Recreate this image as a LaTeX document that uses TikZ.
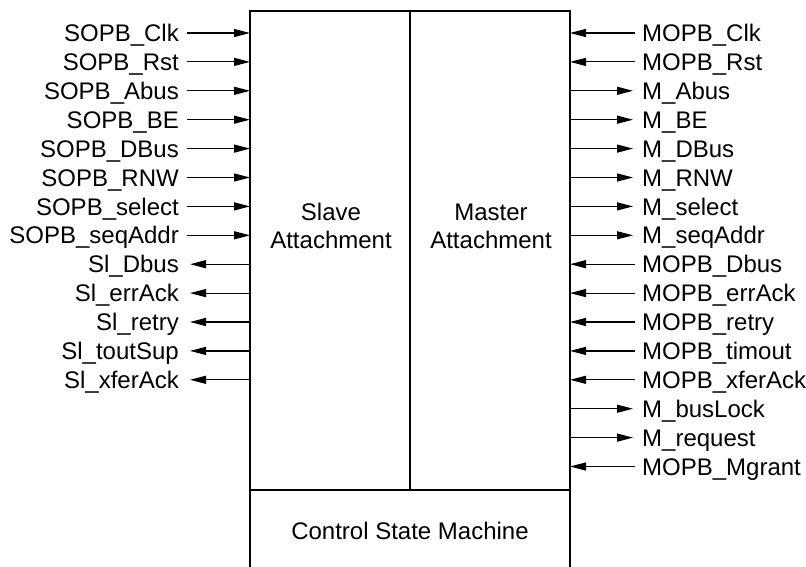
\documentclass[tikz,border=0pt]{standalone}
\usepackage{fontspec}
\setmainfont{Liberation Sans}
\usetikzlibrary{arrows.meta}
\begin{document}
\begin{tikzpicture}[x=1pt, y=-1pt,
		every node/.style={font=\fontsize{24}{28}\selectfont},
		lbl/.style={inner sep=0, text height=17.2pt, text depth=0pt},
		sig/.style={line width=1.2pt, -{Triangle[length=16pt, width=8pt]}},
		blk/.style={draw, line width=2pt, inner sep=0, outer sep=0, anchor=north west}]
			\useasboundingbox (0,0) rectangle (806,567);
			% blocks
			\node (slave) [blk, minimum width=160pt, minimum height=479pt] at (250,11) {};
			\node (master) [blk, minimum width=160pt, minimum height=479pt] at (slave.north east) {};
			\coordinate (csmL) at (250,568);
			\coordinate (csmR) at (570,568);
			\draw[line width=2pt] (slave.south west) -- (csmL);
			\draw[line width=2pt] (master.south east) -- (csmR);
			\node (slavetxt) [align=center] at (331,226) {Slave\\Attachment};
			\node (mastertxt) [align=center] at (491,226) {Master\\Attachment};
			\node (csm) at (410,531) {Control State Machine};
			% slave side
			\node (s1) [lbl, anchor=east] at (179,33.0) {SOPB\_Clk};
			\node (s2) [lbl, anchor=east] at (179,61.9) {SOPB\_Rst};
			\node (s3) [lbl, anchor=east] at (179,90.8) {SOPB\_Abus};
			\node (s4) [lbl, anchor=east] at (179,119.7) {SOPB\_BE};
			\node (s5) [lbl, anchor=east] at (179,148.6) {SOPB\_DBus};
			\node (s6) [lbl, anchor=east] at (179,177.5) {SOPB\_RNW};
			\node (s7) [lbl, anchor=east] at (179,206.4) {SOPB\_select};
			\node (s8) [lbl, anchor=east] at (179,235.3) {SOPB\_seqAddr};
			\node (s9) [lbl, anchor=east] at (179,264.2) {Sl\_Dbus};
			\node (s10) [lbl, anchor=east] at (179,293.1) {Sl\_errAck};
			\node (s11) [lbl, anchor=east] at (179,322.0) {Sl\_retry};
			\node (s12) [lbl, anchor=east] at (179,350.9) {Sl\_toutSup};
			\node (s13) [lbl, anchor=east] at (179,379.8) {Sl\_xferAck};
			\draw[sig] ([xshift=8pt]s1.east) -- (s1 -| slave.west);
			\draw[sig] ([xshift=8pt]s2.east) -- (s2 -| slave.west);
			\draw[sig] ([xshift=8pt]s3.east) -- (s3 -| slave.west);
			\draw[sig] ([xshift=8pt]s4.east) -- (s4 -| slave.west);
			\draw[sig] ([xshift=8pt]s5.east) -- (s5 -| slave.west);
			\draw[sig] ([xshift=8pt]s6.east) -- (s6 -| slave.west);
			\draw[sig] ([xshift=8pt]s7.east) -- (s7 -| slave.west);
			\draw[sig] ([xshift=8pt]s8.east) -- (s8 -| slave.west);
			\draw[sig] (s9 -| slave.west) -- ([xshift=11pt]s9.east);
			\draw[sig] (s10 -| slave.west) -- ([xshift=11pt]s10.east);
			\draw[sig] (s11 -| slave.west) -- ([xshift=11pt]s11.east);
			\draw[sig] (s12 -| slave.west) -- ([xshift=11pt]s12.east);
			\draw[sig] (s13 -| slave.west) -- ([xshift=11pt]s13.east);
			% master side
			\node (m1) [lbl, anchor=west] at (642,33.0) {MOPB\_Clk};
			\node (m2) [lbl, anchor=west] at (642,61.9) {MOPB\_Rst};
			\node (m3) [lbl, anchor=west] at (642,90.8) {M\_Abus};
			\node (m4) [lbl, anchor=west] at (642,119.7) {M\_BE};
			\node (m5) [lbl, anchor=west] at (642,148.6) {M\_DBus};
			\node (m6) [lbl, anchor=west] at (642,177.5) {M\_RNW};
			\node (m7) [lbl, anchor=west] at (642,206.4) {M\_select};
			\node (m8) [lbl, anchor=west] at (642,235.3) {M\_seqAddr};
			\node (m9) [lbl, anchor=west] at (642,264.2) {MOPB\_Dbus};
			\node (m10) [lbl, anchor=west] at (642,293.1) {MOPB\_errAck};
			\node (m11) [lbl, anchor=west] at (642,322.0) {MOPB\_retry};
			\node (m12) [lbl, anchor=west] at (642,350.9) {MOPB\_timout};
			\node (m13) [lbl, anchor=west] at (642,379.8) {MOPB\_xferAck};
			\node (m14) [lbl, anchor=west] at (642,408.7) {M\_busLock};
			\node (m15) [lbl, anchor=west] at (642,437.6) {M\_request};
			\node (m16) [lbl, anchor=west] at (642,466.5) {MOPB\_Mgrant};
			\draw[sig] ([xshift=-7pt]m1.west) -- (m1 -| master.east);
			\draw[sig] ([xshift=-7pt]m2.west) -- (m2 -| master.east);
			\draw[sig] (m3 -| master.east) -- ([xshift=-9pt]m3.west);
			\draw[sig] (m4 -| master.east) -- ([xshift=-9pt]m4.west);
			\draw[sig] (m5 -| master.east) -- ([xshift=-9pt]m5.west);
			\draw[sig] (m6 -| master.east) -- ([xshift=-9pt]m6.west);
			\draw[sig] (m7 -| master.east) -- ([xshift=-9pt]m7.west);
			\draw[sig] (m8 -| master.east) -- ([xshift=-9pt]m8.west);
			\draw[sig] ([xshift=-7pt]m9.west) -- (m9 -| master.east);
			\draw[sig] ([xshift=-7pt]m10.west) -- (m10 -| master.east);
			\draw[sig] ([xshift=-7pt]m11.west) -- (m11 -| master.east);
			\draw[sig] ([xshift=-7pt]m12.west) -- (m12 -| master.east);
			\draw[sig] ([xshift=-7pt]m13.west) -- (m13 -| master.east);
			\draw[sig] (m14 -| master.east) -- ([xshift=-9pt]m14.west);
			\draw[sig] (m15 -| master.east) -- ([xshift=-9pt]m15.west);
			\draw[sig] ([xshift=-7pt]m16.west) -- (m16 -| master.east);
		\end{tikzpicture}
\end{document}
